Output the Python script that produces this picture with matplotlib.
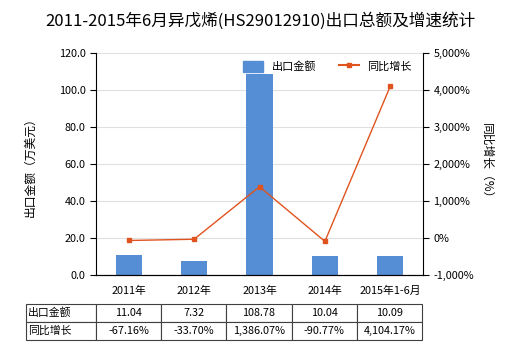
import matplotlib
matplotlib.use("Agg")
import matplotlib.pyplot as plt
from matplotlib.lines import Line2D
from matplotlib.patches import Patch

plt.rcParams['font.family'] = ['Noto Sans CJK SC', 'DejaVu Sans']

#------------ Datos ---------
categories = ["2011年", "2012年", "2013年", "2014年", "2015年1-6月"]
export_values = [11.04, 7.32, 108.78, 10.04, 10.09]
growth_pct = [-67.16, -33.70, 1386.07, -90.77, 4104.17]
export_labels = ["11.04", "7.32", "108.78", "10.04", "10.09"]
growth_labels = ["-67.16%", "-33.70%", "1,386.07%", "-90.77%", "4,104.17%"]

BAR_COLOR = "#558ed5"
LINE_COLOR = "#e0531f"

fig = plt.figure(figsize=(5.2, 3.5), dpi=100)
ax = fig.add_axes([96/520, 1 - 275/350, 327/520, 222/350])
ax2 = ax.twinx()

x = list(range(len(categories)))
ax.bar(x, export_values, width=0.4, color=BAR_COLOR, zorder=2)
ax2.plot(x, growth_pct, color=LINE_COLOR, lw=1.0, marker="s", ms=3.5, zorder=3)

ax.set_xlim(-0.5, len(categories) - 0.5)
ax.set_ylim(0, 120)
ax.set_yticks(range(0, 121, 20))
ax.set_yticklabels([f"{v:.1f}" for v in range(0, 121, 20)])
ax2.set_ylim(-1000, 5000)
ax2.set_yticks(range(-1000, 5001, 1000))
ax2.set_yticklabels([f"{v:,}%" for v in range(-1000, 5001, 1000)])

ax.set_xticks(x)
ax.set_xticklabels(categories)
ax.tick_params(axis="x", length=0, labelsize=7.8, pad=8)
ax.tick_params(axis="y", labelsize=7.8, length=4, direction="out")
ax2.tick_params(axis="y", labelsize=7.8, length=4, direction="out")

ax.grid(axis="y", color="#e0e0e0", lw=0.8, zorder=0)
for a in (ax, ax2):
    a.spines["top"].set_visible(False)
    a.spines["right"].set_visible(a is ax2)
    a.spines["left"].set_visible(a is ax)
    a.spines["bottom"].set_color("black")

ax.set_ylabel("出口金额（万美元）", fontsize=8.5, labelpad=16)
ax2.set_ylabel("同比增长（%）", fontsize=8.5, rotation=270, labelpad=14)

fig.suptitle("2011-2015年6月异戊烯(HS29012910)出口总额及增速统计", fontsize=12, y=0.965)

handles = [Patch(color=BAR_COLOR), Line2D([], [], color=LINE_COLOR, marker="s", ms=3.5, lw=1.5)]
ax.legend(handles, ["出口金额", "同比增长"], loc="upper right", bbox_to_anchor=(0.99, 1.0),
          ncol=2, frameon=False, fontsize=8, handlelength=1.8, handleheight=1.2,
          columnspacing=2.0, borderaxespad=0.3)

#------------ Tabla ---------
cell_text = [["出口金额"] + export_labels, ["同比增长"] + growth_labels]
tab = ax.table(cellText=cell_text, colWidths=[70] + [65.4] * 5,
               bbox=[(26 - 96) / 327, (275 - 340) / 222, 396 / 327, 36 / 222],
               cellLoc="center")
tab.auto_set_font_size(False)
tab.set_fontsize(7.8)
for (r, c), cell in tab.get_celld().items():
    cell.set_edgecolor("#404040")
    cell.set_linewidth(0.8)
    if c == 0:
        cell.set_text_props(ha="left")
        cell.PAD = 0.03

fig.savefig("out.png", dpi=100)
